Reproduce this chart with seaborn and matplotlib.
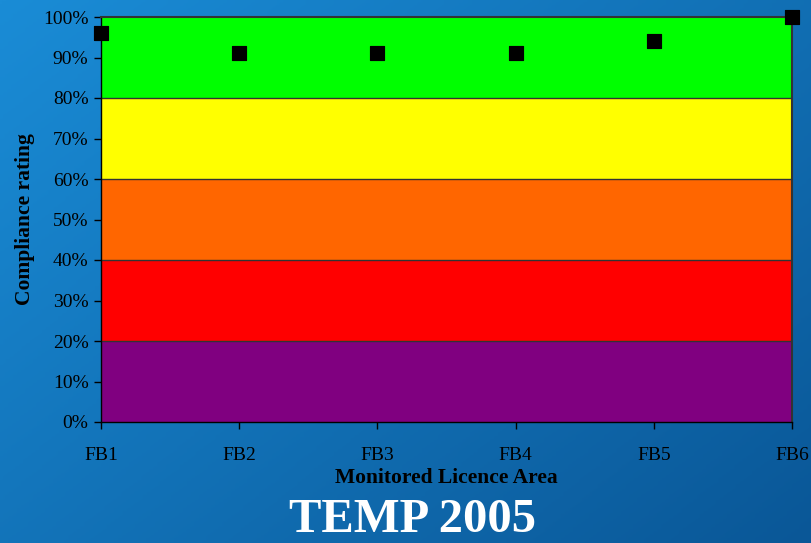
import numpy as np
import pandas as pd
import seaborn as sns
import matplotlib.pyplot as plt

areas = ["FB1", "FB2", "FB3", "FB4", "FB5", "FB6"]
compliance = [96, 91, 91, 91, 94, 100]

band_edges = [0, 20, 40, 60, 80, 100]
band_colors = ["#800080", "#ff0000", "#ff6600", "#ffff00", "#00ff00"]

y_ticks = [0, 10, 20, 30, 40, 50, 60, 70, 80, 90, 100]
y_tick_labels = [f"{t}%" for t in y_ticks]

df = pd.DataFrame({"area": areas, "pos": range(len(areas)), "compliance": compliance})

sns.set_style("white")
plt.rcParams["font.family"] = ["Liberation Serif", "DejaVu Serif"]
plt.rcParams["text.color"] = "black"
plt.rcParams["axes.labelcolor"] = "black"

fig = plt.figure(figsize=(8.12, 5.43), dpi=100)

# blue gradient background
bg = fig.add_axes([0, 0, 1, 1], zorder=-10)
gx, gy = np.meshgrid(np.linspace(0, 1, 200), np.linspace(0, 1, 200))
grad = 0.55 * gx + 0.45 * gy
bg.imshow(grad, cmap=plt.matplotlib.colors.LinearSegmentedColormap.from_list(
    "bg", ["#1a8cd6", "#0a5797"]), aspect="auto", extent=[0, 1, 0, 1], origin="upper")
bg.set_axis_off()

ax = fig.add_axes([101 / 812, 121 / 543, 691 / 812, 405 / 543])
ax.set_facecolor("none")

for lo, hi, c in zip(band_edges[:-1], band_edges[1:], band_colors):
    ax.axhspan(lo, hi, color=c, zorder=0, lw=0)
for e in band_edges[1:-1]:
    ax.axhline(e, color="#333333", lw=1, zorder=1)

sns.scatterplot(data=df, x="pos", y="compliance", marker="s", s=110,
                color="black", edgecolor="black", ax=ax, zorder=5, clip_on=False,
                legend=False)

ax.set_xlim(0, len(areas) - 1)
ax.set_ylim(0, 100)
ax.set_xticks(range(len(areas)))
ax.set_xticklabels(areas, fontsize=14)
ax.set_yticks(y_ticks)
ax.set_yticklabels(y_tick_labels, fontsize=14)
ax.tick_params(axis="x", direction="out", length=5, width=1, pad=13, colors="black")
ax.tick_params(axis="y", direction="out", length=5, width=1, pad=4, colors="black")
ax.tick_params(left=True, bottom=True)

for side in ["left", "bottom"]:
    ax.spines[side].set_color("black")
    ax.spines[side].set_linewidth(1)
for side in ["top", "right"]:
    ax.spines[side].set_color("#333333")
    ax.spines[side].set_linewidth(1.5)

ax.set_xlabel("Monitored Licence Area", fontsize=15.5, fontweight="bold",
              labelpad=3, color="black")
ax.set_ylabel("Compliance rating", fontsize=15.5, fontweight="bold",
              labelpad=6, color="black")

fig.text(0.508, 0.02, "TEMP 2005", color="white", fontsize=35,
         fontweight="bold", ha="center", va="baseline")

fig.savefig("out.png", dpi=100)
